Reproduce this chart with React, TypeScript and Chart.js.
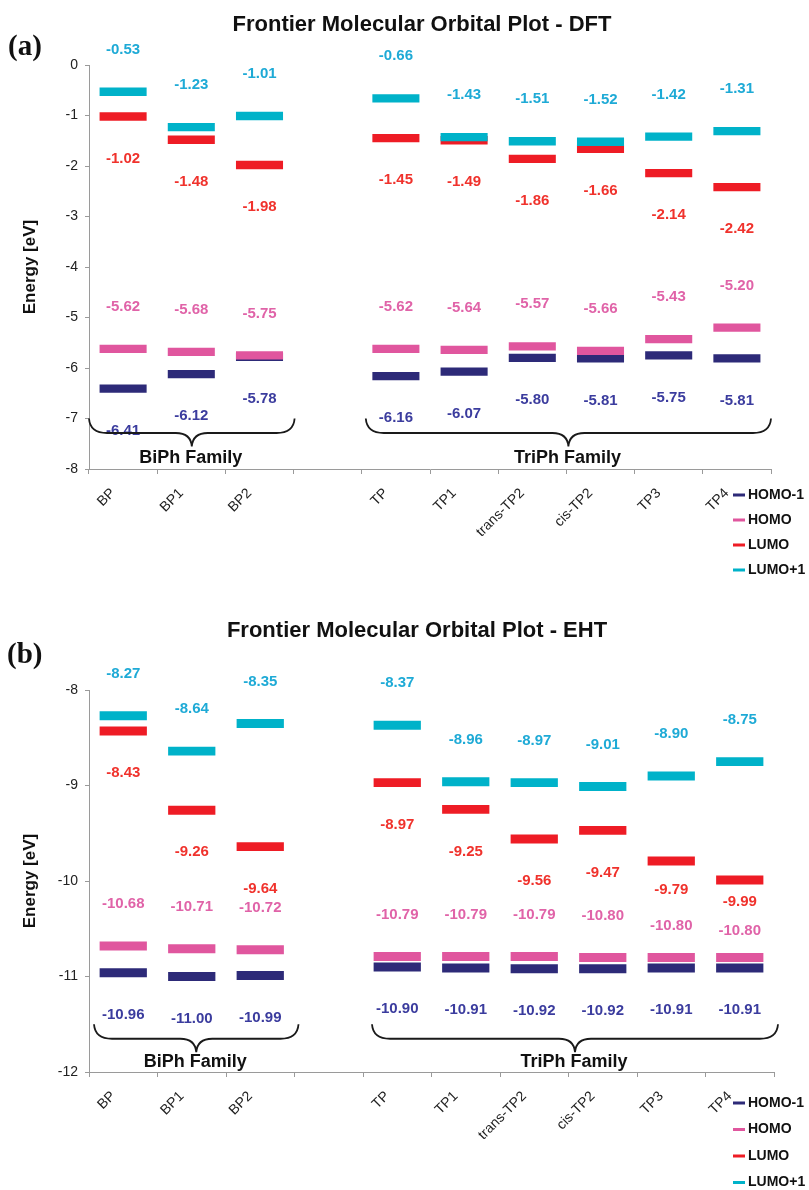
import React, { useEffect, useRef } from 'react';
import { Chart, registerables } from 'chart.js';

Chart.register(...registerables);

// ---------------- data ----------------
const categories = ['BP', 'BP1', 'BP2', '', 'TP', 'TP1', 'trans-TP2', 'cis-TP2', 'TP3', 'TP4'];
const orbitalNames = ['HOMO-1', 'HOMO', 'LUMO', 'LUMO+1'];

const dftHomoMinus1 = [-6.41, -6.12, -5.78, null, -6.16, -6.07, -5.8, -5.81, -5.75, -5.81];
const dftHomo = [-5.62, -5.68, -5.75, null, -5.62, -5.64, -5.57, -5.66, -5.43, -5.2];
const dftLumo = [-1.02, -1.48, -1.98, null, -1.45, -1.49, -1.86, -1.66, -2.14, -2.42];
const dftLumoPlus1 = [-0.53, -1.23, -1.01, null, -0.66, -1.43, -1.51, -1.52, -1.42, -1.31];

const ehtHomoMinus1 = [-10.96, -11.0, -10.99, null, -10.9, -10.91, -10.92, -10.92, -10.91, -10.91];
const ehtHomo = [-10.68, -10.71, -10.72, null, -10.79, -10.79, -10.79, -10.8, -10.8, -10.8];
const ehtLumo = [-8.43, -9.26, -9.64, null, -8.97, -9.25, -9.56, -9.47, -9.79, -9.99];
const ehtLumoPlus1 = [-8.27, -8.64, -8.35, null, -8.37, -8.96, -8.97, -9.01, -8.9, -8.75];

const familyNames = ['BiPh Family', 'TriPh Family'];
const familyFirst = [0, 4];
const familyLast = [2, 9];

// ---------------- styles ----------------
const FONT = '"Liberation Sans", Arial, Helvetica, sans-serif';
const barColors = ['#2d2a78', '#e0569e', '#ee1c25', '#00b2c9'];
const labelColors = ['#3b3c9e', '#e063a8', '#f0322c', '#1eaad6'];
const labelUp = [false, true, false, true];
const drawOrder = [4, 3, 2, 1];

Chart.defaults.font.family = FONT;

const decorPlugin = {
  id: 'decor',
  afterDraw(chart: any, _args: any, o: any) {
    const ctx = chart.ctx;
    const xs = chart.scales.x;
    const ys = chart.scales.y;
    const cw = xs.getPixelForValue(1) - xs.getPixelForValue(0);
    ctx.save();

    // title
    ctx.fillStyle = '#111';
    ctx.font = `bold 22px ${FONT}`;
    ctx.textAlign = 'center';
    ctx.textBaseline = 'alphabetic';
    ctx.fillText(o.title, o.titleX, o.titleY);

    // panel label
    ctx.font = 'bold 29px "Liberation Serif", "Times New Roman", serif';
    ctx.textAlign = 'left';
    ctx.fillText(o.panel, o.panelX, o.panelY);

    // value labels
    ctx.font = `bold 15px ${FONT}`;
    ctx.textAlign = 'center';
    ctx.textBaseline = 'middle';
    chart.data.datasets.forEach((ds: any, di: number) => {
      ctx.fillStyle = labelColors[di];
      ds.values.forEach((v: number | null, i: number) => {
        if (v == null) return;
        const ov = o.offsets && o.offsets[di] && o.offsets[di][i];
        const off = ov != null ? ov : 42;
        const y = ys.getPixelForValue(v) + (labelUp[di] ? -off : off);
        ctx.fillText(v.toFixed(2), xs.getPixelForValue(i), y);
      });
    });

    // braces + family labels
    ctx.strokeStyle = '#1a1a1a';
    ctx.lineWidth = 1.8;
    familyNames.forEach((name, fi) => {
      const x0 = xs.getPixelForValue(familyFirst[fi]) - cw / 2 + o.braceShift[fi][0];
      const x1 = xs.getPixelForValue(familyLast[fi]) + cw / 2 + o.braceShift[fi][1];
      const xm = (x0 + x1) / 2;
      const y0 = ys.getPixelForValue(o.braceY);
      const yh = y0 + 14.5;
      const yc = y0 + 28;
      ctx.beginPath();
      ctx.moveTo(x0, y0);
      ctx.quadraticCurveTo(x0 + 1, yh, x0 + 18, yh);
      ctx.lineTo(xm - 16, yh);
      ctx.quadraticCurveTo(xm - 1, yh, xm, yc);
      ctx.quadraticCurveTo(xm + 1, yh, xm + 16, yh);
      ctx.lineTo(x1 - 18, yh);
      ctx.quadraticCurveTo(x1 - 1, yh, x1, y0);
      ctx.stroke();

      ctx.fillStyle = '#111';
      ctx.font = `bold 18px ${FONT}`;
      ctx.textAlign = 'center';
      ctx.textBaseline = 'alphabetic';
      ctx.fillText(name, xm - 1, chart.chartArea.bottom - o.familyLift);
    });

    // legend
    ctx.font = `bold 14px ${FONT}`;
    ctx.textAlign = 'left';
    ctx.textBaseline = 'middle';
    chart.data.datasets.forEach((ds: any, di: number) => {
      const y = o.legendY + di * o.legendGap;
      ctx.fillStyle = ds.backgroundColor;
      ctx.fillRect(733, y - 1.5, 12, 3);
      ctx.fillStyle = '#111';
      ctx.fillText(ds.label, 748, y);
    });

    ctx.restore();
  },
};

function buildConfig(p: any) {
  const series = [p.homoMinus1, p.homo, p.lumo, p.lumoPlus1];
  const H = 595;
  return {
    type: 'bar',
    data: {
      labels: categories,
      datasets: series.map((vals: (number | null)[], di: number) => ({
        label: orbitalNames[di],
        values: vals,
        data: vals.map((v) => (v == null ? null : [v - p.half, v + p.half])),
        backgroundColor: barColors[di],
        borderWidth: 0,
        order: drawOrder[di],
        grouped: false,
        barPercentage: 0.69,
        categoryPercentage: 1,
      })),
    },
    options: {
      responsive: false,
      animation: false,
      layout: { padding: { top: p.top, right: 809 - p.right, bottom: 0, left: 0 } },
      plugins: {
        legend: { display: false },
        title: { display: false },
        tooltip: { enabled: false },
        decor: p.decor,
      },
      scales: {
        x: {
          type: 'category',
          offset: true,
          grid: { offset: true, drawOnChartArea: false, drawTicks: true, tickLength: 5, color: '#9a9a9a' },
          border: { color: '#9a9a9a', width: 1 },
          ticks: {
            autoSkip: false,
            minRotation: 45,
            maxRotation: 45,
            labelOffset: -10,
            padding: 11,
            color: '#222',
            font: { size: 14, family: FONT },
          },
          afterFit: (s: any) => {
            s.height = H - p.bottom;
          },
        },
        y: {
          min: p.min,
          max: p.max,
          ticks: { stepSize: 1, padding: 7, color: '#222', font: { size: 14, family: FONT } },
          grid: { drawOnChartArea: false, drawTicks: true, tickLength: 4, color: '#9a9a9a' },
          border: { color: '#9a9a9a', width: 1 },
          title: {
            display: true,
            text: 'Energy [eV]',
            color: '#111',
            font: { size: 17, weight: 'bold', family: FONT },
            padding: { top: 20, bottom: 0 },
          },
          afterFit: (s: any) => {
            s.width = 89;
          },
        },
      },
    },
    plugins: [decorPlugin],
  } as any;
}

const dftPanel = {
  homoMinus1: dftHomoMinus1,
  homo: dftHomo,
  lumo: dftLumo,
  lumoPlus1: dftLumoPlus1,
  half: 0.082,
  min: -8,
  max: 0,
  top: 65,
  bottom: 469,
  right: 771,
  decor: {
    title: 'Frontier Molecular Orbital Plot - DFT',
    titleX: 422,
    titleY: 31,
    panel: '(a)',
    panelX: 8,
    panelY: 55,
    braceY: -7.0,
    braceShift: [
      [0, 1],
      [4, 0],
    ],
    familyLift: 6,
    legendY: 495,
    legendGap: 25,
  },
};

const ehtPanel = {
  homoMinus1: ehtHomoMinus1,
  homo: ehtHomo,
  lumo: ehtLumo,
  lumoPlus1: ehtLumoPlus1,
  half: 0.047,
  min: -12,
  max: -8,
  top: 95,
  bottom: 477,
  right: 774,
  decor: {
    title: 'Frontier Molecular Orbital Plot - EHT',
    titleX: 417,
    titleY: 42,
    panel: '(b)',
    panelX: 7,
    panelY: 68,
    braceY: -11.5,
    braceShift: [
      [5, 4],
      [9, 4],
    ],
    familyLift: 5,
    legendY: 508,
    legendGap: 26.5,
    offsets: { 1: { 8: 32, 9: 27 }, 2: { 8: 29, 9: 22 } },
  },
};

function OrbitalChart({ panel, top }: { panel: any; top: number }) {
  const ref = useRef<HTMLCanvasElement | null>(null);
  useEffect(() => {
    if (!ref.current) return;
    const chart = new Chart(ref.current, buildConfig(panel));
    return () => chart.destroy();
  }, [panel]);
  return (
    <canvas
      ref={ref}
      width={809}
      height={595}
      style={{ position: 'absolute', left: 0, top, width: 809, height: 595, display: 'block' }}
    />
  );
}

export default function App() {
  return (
    <div style={{ position: 'absolute', left: 0, top: 0, width: 809, height: 1190, background: '#fff' }}>
      <OrbitalChart panel={dftPanel} top={0} />
      <OrbitalChart panel={ehtPanel} top={595} />
    </div>
  );
}
